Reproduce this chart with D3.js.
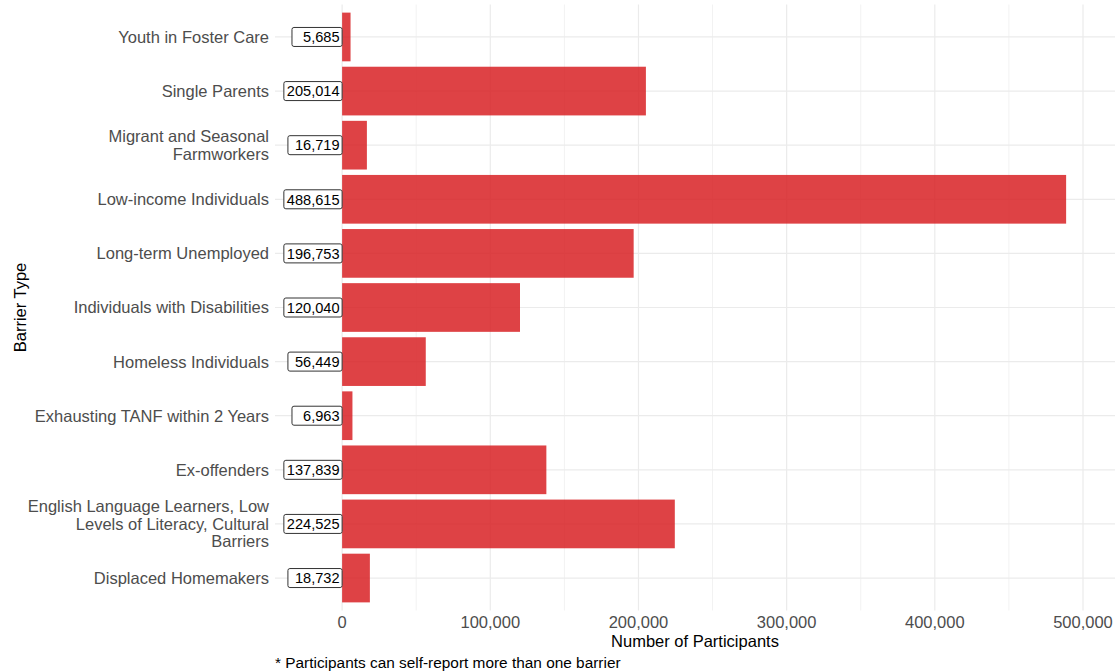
<!DOCTYPE html>
<html><head><meta charset="utf-8">
<script src="https://cdn.jsdelivr.net/npm/d3@7"></script>
<style>body{margin:0;background:#fff;} svg{display:block;}</style>
</head><body><svg id="c" width="1115" height="671"></svg>
<script>
const categories = ["Youth in Foster Care","Single Parents","Migrant and Seasonal Farmworkers","Low-income Individuals","Long-term Unemployed","Individuals with Disabilities","Homeless Individuals","Exhausting TANF within 2 Years","Ex-offenders","English Language Learners, Low Levels of Literacy, Cultural Barriers","Displaced Homemakers"];
const labelLines = [["Youth in Foster Care"],["Single Parents"],["Migrant and Seasonal","Farmworkers"],["Low-income Individuals"],["Long-term Unemployed"],["Individuals with Disabilities"],["Homeless Individuals"],["Exhausting TANF within 2 Years"],["Ex-offenders"],["English Language Learners, Low","Levels of Literacy, Cultural","Barriers"],["Displaced Homemakers"]];
const values = [5685,205014,16719,488615,196753,120040,56449,6963,137839,224525,18732];
const xTicks = [0,100000,200000,300000,400000,500000];
const xMinor = [50000,150000,250000,350000,450000];

const svg = d3.select("#c");
const panel = {left:275, right:1115, top:4.5, bottom:610.5};
const x = d3.scaleLinear().domain([-45300, 521600]).range([panel.left, panel.right]);
const y = d3.scaleBand().domain(categories).range([panel.top, panel.bottom]).paddingInner(0.1).paddingOuter(0.15);
const fmt = d3.format(",");
const font = "Liberation Sans, Arial, sans-serif";
const labW = d3.max(values, v => fmt(v).length);

// grid
const g = svg.append("g");
g.selectAll(".minor").data(xMinor).join("line")
  .attr("x1", d=>x(d)).attr("x2", d=>x(d)).attr("y1", panel.top).attr("y2", panel.bottom)
  .attr("stroke", "#f2f2f2").attr("stroke-width", 1);
g.selectAll(".major").data(xTicks).join("line")
  .attr("x1", d=>x(d)).attr("x2", d=>x(d)).attr("y1", panel.top).attr("y2", panel.bottom)
  .attr("stroke", "#ebebeb").attr("stroke-width", 1.2);
g.selectAll(".hmaj").data(categories).join("line")
  .attr("x1", panel.left).attr("x2", panel.right)
  .attr("y1", d=>y(d)+y.bandwidth()/2).attr("y2", d=>y(d)+y.bandwidth()/2)
  .attr("stroke", "#ebebeb").attr("stroke-width", 1.2);

// bars
svg.selectAll(".bar").data(values).join("rect")
  .attr("x", x(0)).attr("y", (d,i)=>y(categories[i]))
  .attr("width", d=>x(d)-x(0)).attr("height", y.bandwidth())
  .attr("fill", "#d7191c").attr("fill-opacity", 0.82);

// value labels (padded to common width, like R's format())
const lab = svg.selectAll(".lab").data(values).join("g");
lab.each(function(d,i){
  const gg = d3.select(this);
  const cy = y(categories[i]) + y.bandwidth()/2;
  const t = gg.append("text").attr("x", x(0)-2.5).attr("y", cy).attr("dy","0.36em")
    .attr("text-anchor","end").attr("font-family", font).attr("font-size", 14.6).attr("fill","#000")
    .style("white-space","pre")
    .text(fmt(d).padStart(labW, " "));
  const bb = t.node().getBBox();
  gg.insert("rect","text").attr("x", bb.x-3).attr("y", cy-9.5).attr("width", x(0)-(bb.x-3)).attr("height", 19)
    .attr("rx", 2).attr("fill","#fff").attr("stroke","#333").attr("stroke-width",1);
});

// y tick labels
svg.selectAll(".ylab").data(categories).join("text")
  .attr("text-anchor","end").attr("font-family", font).attr("font-size", 16.5).attr("fill","#4d4d4d")
  .each(function(d,i){
    const lines = labelLines[i];
    const cy = y(d)+y.bandwidth()/2;
    const lh = 17.5;
    const t = d3.select(this);
    lines.forEach((ln,j)=>{
      t.append("tspan").attr("x", 269).attr("y", cy + (j-(lines.length-1)/2)*lh).attr("dy","0.36em").text(ln);
    });
  });

// x tick labels
svg.selectAll(".xlab").data(xTicks).join("text")
  .attr("x", d=>x(d)).attr("y", 622).attr("dy","0.36em").attr("text-anchor","middle")
  .attr("font-family", font).attr("font-size", 16.5).attr("fill","#4d4d4d").text(d=>fmt(d));

// axis titles
svg.append("text").attr("x", (panel.left+panel.right)/2).attr("y", 641).attr("dy","0.36em")
  .attr("text-anchor","middle").attr("font-family", font).attr("font-size", 16.5).attr("fill","#000")
  .text("Number of Participants");
svg.append("text").attr("transform", `translate(20,${(panel.top+panel.bottom)/2}) rotate(-90)`)
  .attr("dy","0.36em").attr("text-anchor","middle").attr("font-family", font).attr("font-size", 16.5).attr("fill","#000")
  .text("Barrier Type");
svg.append("text").attr("x", 275).attr("y", 662).attr("dy","0.36em")
  .attr("font-family", font).attr("font-size", 15.4).attr("fill","#000")
  .text("* Participants can self-report more than one barrier");
</script></body></html>
